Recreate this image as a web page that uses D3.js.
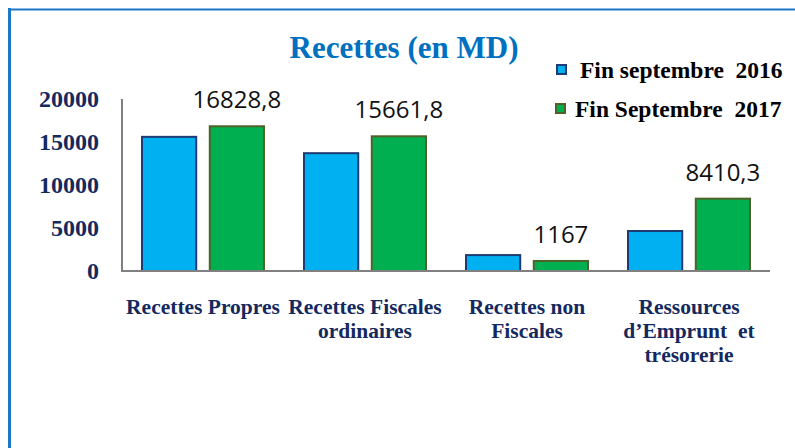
<!DOCTYPE html>
<html>
<head>
<meta charset="utf-8">
<script src="https://d3js.org/d3.v7.min.js"></script>
<style>
  body { margin: 0; background: #fff; }
  .serif { font-family: "Liberation Serif", "Times New Roman", serif; font-weight: bold; }
</style>
</head>
<body>
<svg width="795" height="448"></svg>
<script>
// data
const categories = [
  ['Recettes Propres'],
  ['Recettes Fiscales', 'ordinaires'],
  ['Recettes non', 'Fiscales'],
  ['Ressources', 'd\u2019Emprunt  et', 'trésorerie']
];
const series = ['Fin septembre  2016', 'Fin Septembre  2017'];
const values2016 = [15600, 13700, 1850, 4650];
const values2017 = [16828.8, 15661.8, 1167, 8410.3];
const labels2017 = ['16828,8', '15661,8', '1167', '8410,3'];
const yTicks = [0, 5000, 10000, 15000, 20000];

const svg = d3.select('svg');

// frame (blue border on top and left)
svg.append('line').attr('x1', 8).attr('x2', 795).attr('y1', 9.5).attr('y2', 9.5)
  .attr('stroke', '#1b78c9').attr('stroke-width', 2);
svg.append('line').attr('x1', 9.5).attr('x2', 9.5).attr('y1', 8).attr('y2', 448)
  .attr('stroke', '#1b78c9').attr('stroke-width', 3);

const plotLeft = 122, plotRight = 770, plotTop = 99, plotBottom = 271;

const x0 = d3.scaleBand().domain(d3.range(categories.length))
  .range([plotLeft, plotRight]).paddingInner(0).paddingOuter(0);
const x1 = d3.scaleBand().domain([0, 1]).range([20, x0.bandwidth() - 20]).paddingInner(0.2);
const y = d3.scaleLinear().domain([0, 20000]).range([plotBottom, plotTop]);

const colors = ['#00b0f0', '#00b050'];
const strokes = ['#1f3b73', '#4f6228'];

// title
svg.append('text').attr('class', 'serif').attr('x', 404).attr('y', 58).attr('text-anchor', 'middle')
  .attr('font-size', 31).attr('fill', '#0070c0').text('Recettes (en MD)');

// y ticks
svg.append('g').selectAll('text').data(yTicks).join('text')
  .attr('class', 'serif')
  .attr('x', 99).attr('y', d => y(d)).attr('dy', '0.35em')
  .attr('text-anchor', 'end')
  .attr('font-size', 24).attr('fill', '#14295e')
  .text(d => d);

// bars
const allVals = [values2016, values2017];
const g = svg.append('g');
allVals.forEach((vals, s) => {
  g.selectAll('.bar' + s).data(vals).join('rect')
    .attr('class', 'bar' + s)
    .attr('x', (d, i) => x0(i) + x1(s))
    .attr('width', x1.bandwidth())
    .attr('y', d => y(d))
    .attr('height', d => y(0) - y(d))
    .attr('fill', colors[s])
    .attr('stroke', strokes[s]).attr('stroke-width', 2);
});

// data labels (2017 only)
svg.append('g').selectAll('text').data(values2017).join('text')
  .attr('x', (d, i) => x0(i) + x1(1) + x1.bandwidth() / 2)
  .attr('y', d => y(d) - 18)
  .attr('text-anchor', 'middle')
  .attr('font-family', 'Open Sans').attr('font-size', 24).attr('fill', '#111')
  .text((d, i) => labels2017[i]);

// axes lines
svg.append('line').attr('x1', plotLeft).attr('x2', plotLeft).attr('y1', plotTop).attr('y2', plotBottom)
  .attr('stroke', '#808080').attr('stroke-width', 2);
svg.append('line').attr('x1', plotLeft - 1).attr('x2', plotRight).attr('y1', plotBottom).attr('y2', plotBottom)
  .attr('stroke', '#808080').attr('stroke-width', 2);

// category labels
const cat = svg.append('g').selectAll('text').data(categories).join('text')
  .attr('class', 'serif')
  .attr('x', (d, i) => x0(i) + x0.bandwidth() / 2)
  .attr('y', 314)
  .attr('text-anchor', 'middle')
  .attr('font-size', 21.5).attr('fill', '#14295e')
  .style('white-space', 'pre');
cat.selectAll('tspan').data(d => d).join('tspan')
  .attr('x', function () { return d3.select(this.parentNode).attr('x'); })
  .attr('dy', (d, i) => i === 0 ? 0 : 24)
  .text(d => d);

// legend
const legY = [70, 109];
const legX = [557, 556];
const legTX = [580, 575];
series.forEach((name, s) => {
  svg.append('rect').attr('x', legX[s]).attr('y', legY[s] - 5)
    .attr('width', 9).attr('height', 9)
    .attr('fill', colors[s]).attr('stroke', strokes[s]).attr('stroke-width', 2);
  svg.append('text').attr('class', 'serif').attr('x', legTX[s]).attr('y', legY[s]).attr('dy', '0.35em')
    .attr('font-size', 23.5).attr('fill', '#000')
    .style('white-space', 'pre')
    .text(name);
});
</script>
</body>
</html>
